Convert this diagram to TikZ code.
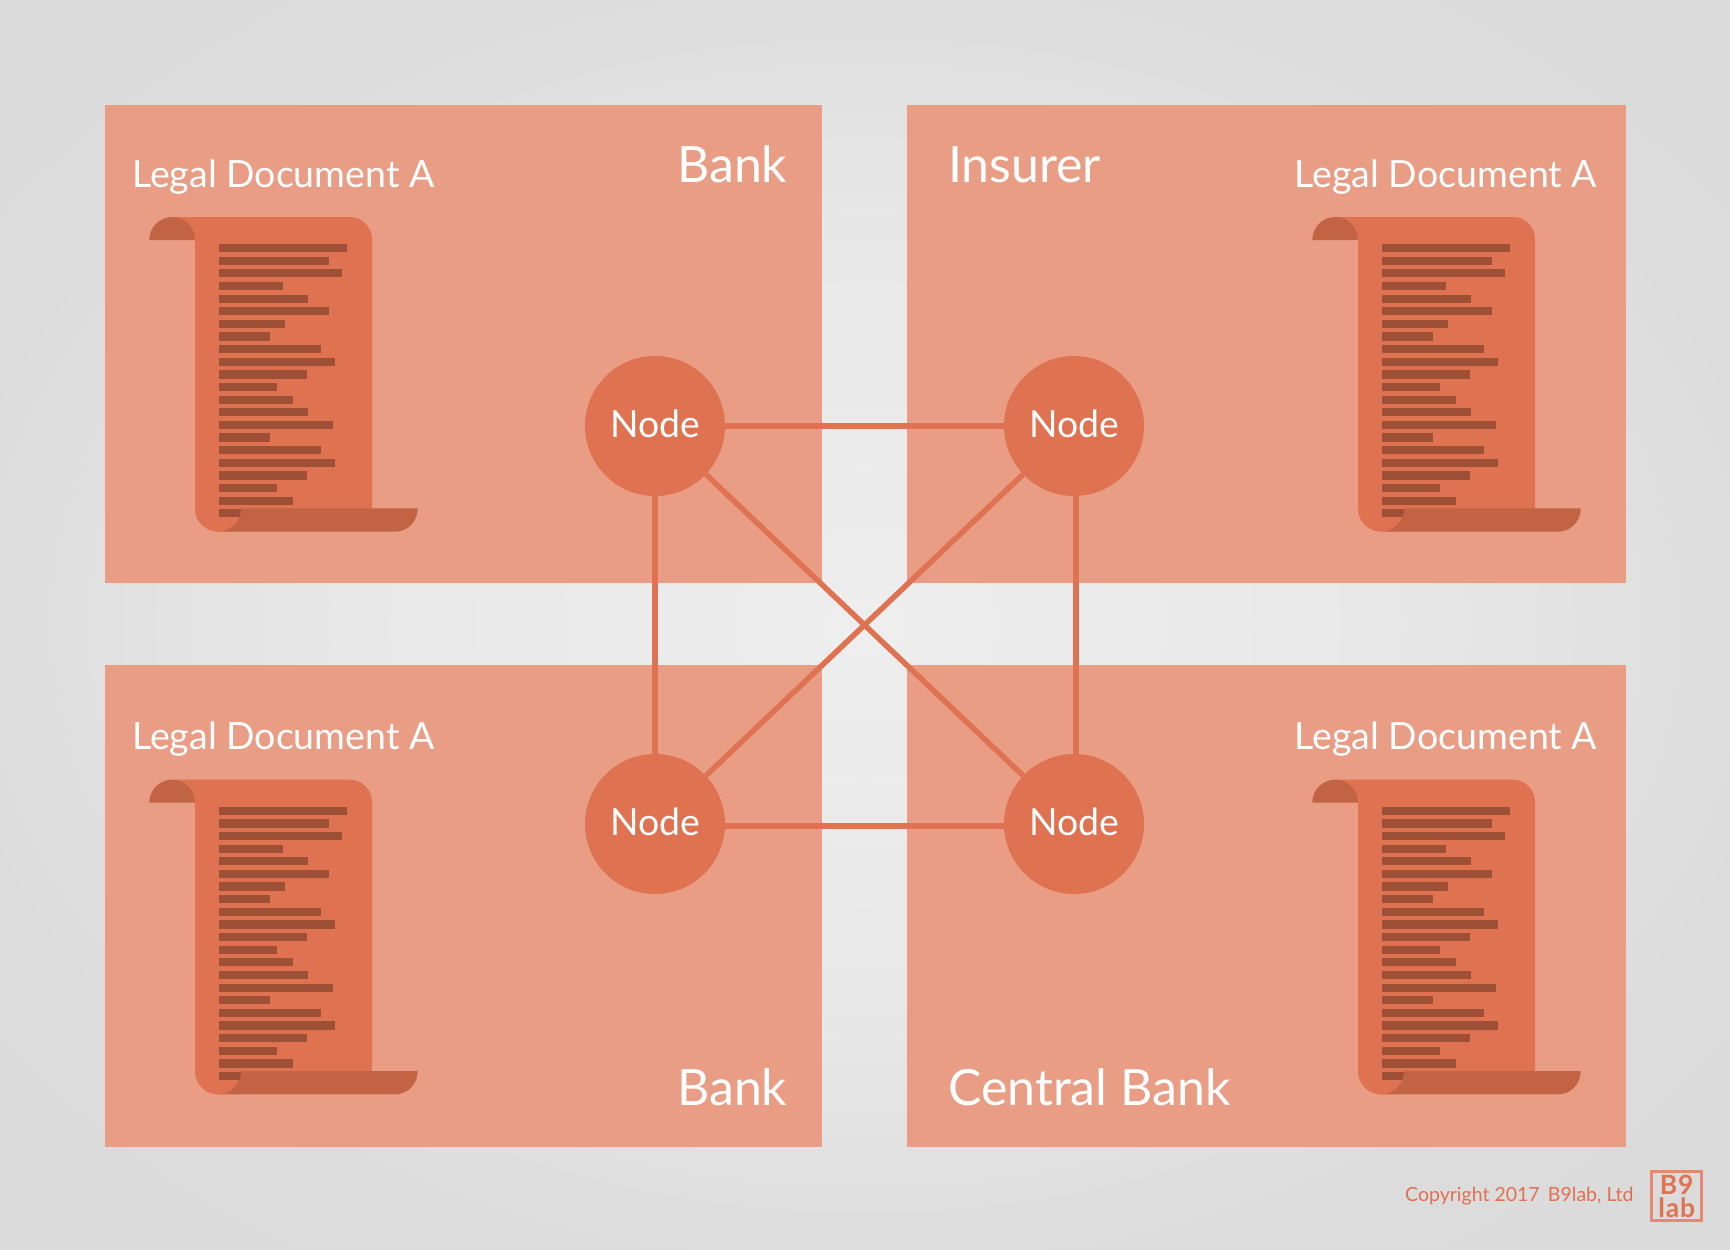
\documentclass[tikz,border=0pt]{standalone}
\usepackage{fontspec}
\setmainfont{Lato}
\usetikzlibrary{calc}

\definecolor{panelc}{HTML}{E99D85}
\definecolor{sheetc}{HTML}{DF7251}
\definecolor{curlc}{HTML}{C26344}
\definecolor{linec}{HTML}{9E5036}
\definecolor{logoc}{HTML}{E58A6E}
\definecolor{bgin}{HTML}{EEEEEE}
\definecolor{bgnear}{HTML}{E8E8E8}
\definecolor{bgmid}{HTML}{DCDCDC}
\definecolor{bgout}{HTML}{D8D8D8}
\pgfdeclareradialshading{bggrad}{\pgfpoint{0bp}{0bp}}{color(0bp)=(bgin); color(15bp)=(bgnear); color(27bp)=(bgmid); color(50bp)=(bgout)}

\begin{document}
\begin{tikzpicture}
                    [x=1pt,y=-1pt,
                     doclabel/.style={anchor=base west,inner sep=0,text=white,font=\fontsize{37.5}{37.5}\selectfont},
                     owner/.style={anchor=base west,inner sep=0,text=white,font=\fontsize{50}{50}\selectfont},
                     peer/.style={circle,fill=sheetc,minimum size=140,inner sep=0,text depth=4,text=white,font=\fontsize{37.4}{37.4}\selectfont},
                     logotext/.style={align=center,inner sep=0,text=sheetc,font=\fontsize{26.5}{23}\selectfont\bfseries\addfontfeatures{LetterSpace=3}},
                     link/.style={draw=sheetc,line width=5.5}]

                        \shade[shading=bggrad] (0,0) rectangle (1730,1250);

                        \fill[panelc] (105,105) rectangle (822,583);
                        \fill[panelc] (907,105) rectangle (1626,583);
                        \fill[panelc] (105,665) rectangle (822,1147);
                        \fill[panelc] (907,665) rectangle (1626,1147);

                        % the four scrolls
                        \foreach \sx/\sy in {0/0,1163/0,0/562.7,1163/562.7} {
                            \begin{scope}[shift={(\sx,\sy)}]
                                \fill[sheetc] (172.2,217) -- (350,217) .. controls (362,217) and (372,227) .. (372,239)
                                    -- (372,525) -- (218,531.7) .. controls (205.3,531.7) and (195,521.4) .. (195,508.7) -- (195,240) -- cycle;
                                \fill[curlc] (149.3,240) .. controls (149.3,227.3) and (159.5,217) .. (172.2,217)
                                    .. controls (184.8,217) and (195,227.3) .. (195,240) -- cycle;
                                \foreach \w [count=\i] in {128,110,123,64,89,110,66,51,102,116,88,58,74,89,114,51,102,116,88,58,74,50}
                                    \fill[linec] (219,{244+(\i-1)*12.63}) rectangle +(\w,8.2);
                                \fill[curlc] (241,508.3) .. controls (241,521.2) and (230.7,531.7) .. (218,531.7)
                                    -- (395,531.7) .. controls (407.6,531.7) and (417.7,521.4) .. (417.7,508.3) -- cycle;
                            \end{scope}
                        }

                        \node[doclabel] (docTL) at (132,187.5) {Legal Document A};
                        \node[doclabel] (docTR) at (1294.5,187.5) {Legal Document A};
                        \node[doclabel] (docBL) at (132,749.5) {Legal Document A};
                        \node[doclabel] (docBR) at (1294.5,749.5) {Legal Document A};

                        \node[owner] (bankT) at (677,182) {Bank};
                        \node[owner] (insurer) at (948,182) {Insurer};
                        \node[owner] (bankB) at (677,1105) {Bank};
                        \node[owner] (central) at (948,1105) {Central Bank};

                        \node[peer] (tl) at (655,426) {Node};
                        \node[peer] (tr) at (1074,426) {Node};
                        \node[peer] (bl) at (655,824) {Node};
                        \node[peer] (br) at (1074,824) {Node};

                        \draw[link] (tl) -- (tr);
                        \draw[link] ([yshift=-2]bl.east) -- ([yshift=-2]br.west);
                        \draw[link] (tl) -- (bl);
                        \draw[link] ([xshift=2]tr.south) -- ([xshift=2]br.north);
                        \draw[link] (tl) -- (br);
                        \draw[link] (tr) -- (bl);

                        \node[anchor=base west,inner sep=0,text=sheetc,font=\fontsize{19.5}{19.5}\selectfont] (copy) at (1405,1201) {Copyright 2017 \,B9lab, Ltd};
                        \node[draw=logoc,line width=2.5,minimum width=50,minimum height=49,inner sep=0] (logo) at (1676.7,1196.2) {};
                        \node[logotext] (logoT) at (1676.7,1196.5) {B9\\lab};

                \end{tikzpicture}
\end{document}
